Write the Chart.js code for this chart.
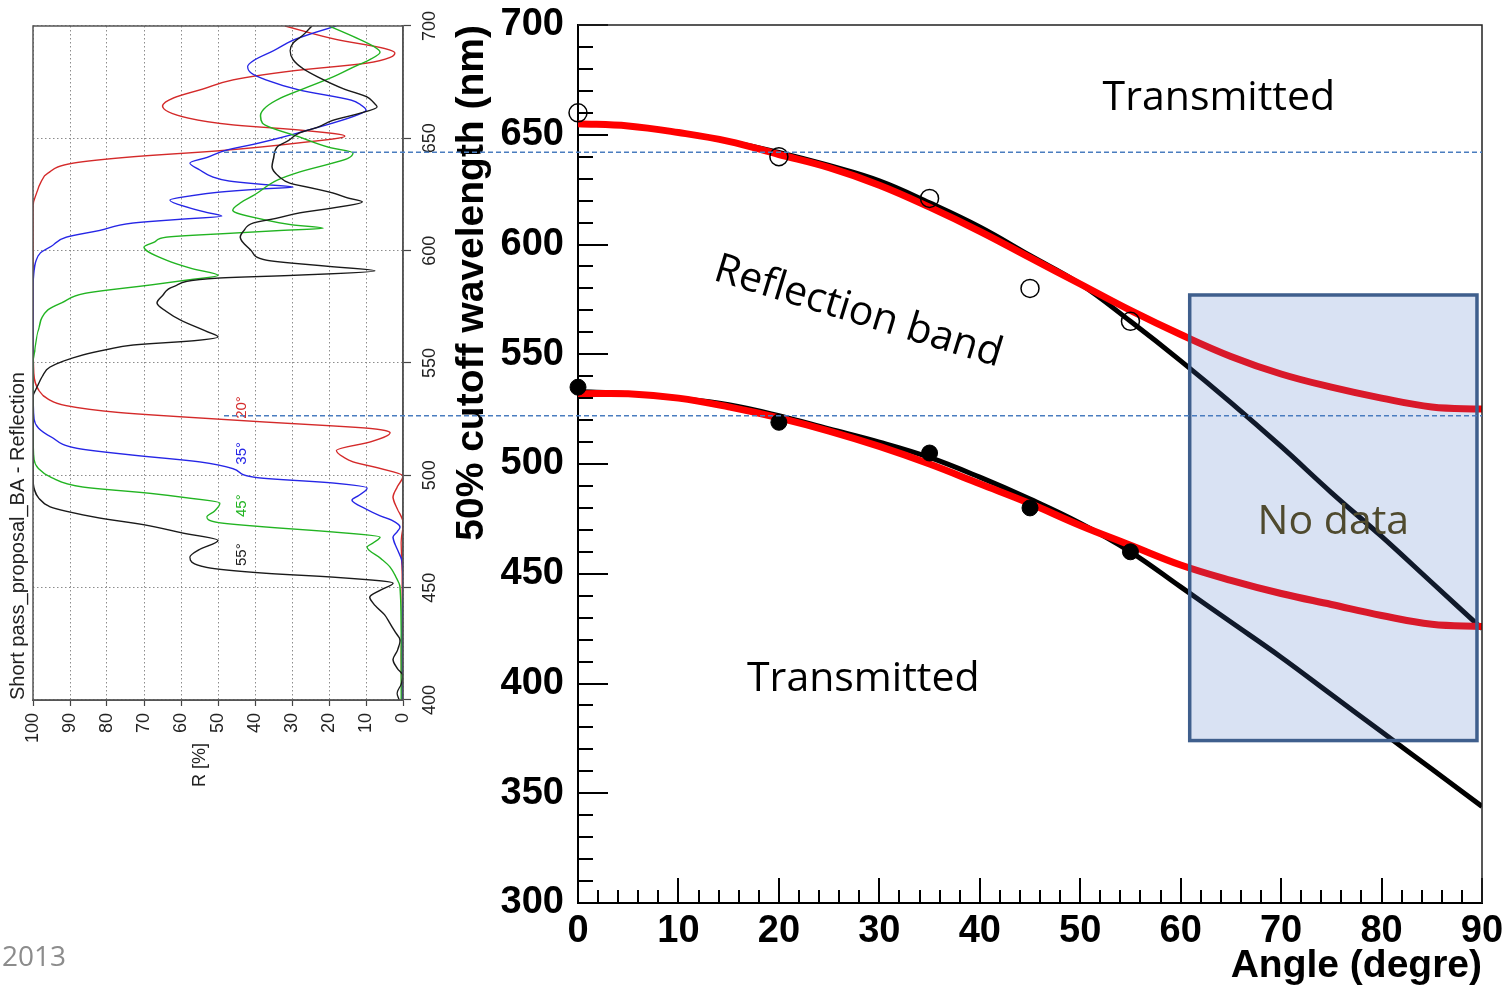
<!DOCTYPE html>
<html>
<head>
<meta charset="utf-8">
<title>50% cutoff wavelength vs angle</title>
<script src="https://cdn.jsdelivr.net/npm/chart.js@4.4.0/dist/chart.umd.min.js"></script>
<style>
    html, body { margin: 0; padding: 0; background: #fff; overflow: hidden; }
    #stage { position: relative; width: 1509px; height: 990px; }
    #spectrum-chart { position: absolute; left: 0; top: 0; transform-origin: 0 0; transform: translate(0px, 800px) rotate(-90deg); }
    #cutoff-chart { position: absolute; left: 0; top: 0; }
    #year { position: absolute; left: 2px; top: 941px; font-family: "Open Sans", sans-serif; font-size: 28px; line-height: 1; color: #8c8c8c; }
</style>
</head>
<body>
<div id="stage">
    <canvas id="spectrum-chart" width="800" height="440"></canvas>
    <canvas id="cutoff-chart" width="1509" height="990"></canvas>
    <div id="year">2013</div>
</div>
<script>
// right panel: 50% cutoff wavelength (nm) vs angle (deg)
const angles = [0, 5, 10, 15, 20, 25, 30, 35, 40, 45, 50, 55, 60, 65, 70, 75, 80, 85, 90];
const upperBlack = [655, 654, 651, 647, 642, 636, 629, 619, 608, 595, 582, 565, 547, 528, 508, 487, 467, 446, 425];
const upperRed = [655, 654, 651, 647, 641, 635, 627, 617, 606, 594, 582, 570, 559, 549, 541, 535, 530, 526, 525];
const lowerBlack = [533, 532, 530, 527, 522, 516, 510, 503, 494, 484, 473, 460, 444, 428, 412, 395, 378, 361, 344];
const lowerRed = [532, 532, 530, 526, 521, 515, 508, 500, 491, 482, 472, 463, 454, 447, 441, 436, 431, 427, 426];
const measuredAngles = [0, 20, 35, 45, 55];
const upperMeasured = [660, 640, 621, 580, 565];
const lowerMeasured = [535, 519, 505, 480, 460];
const cutoffMarks = [642, 522];

// left panel: reflection spectra [wavelength nm, R %] per incidence angle
const spectrum20 = [[400, 0.3], [420, 0.5], [440, 0.2], [460, 0.3], [470, 0.5], [479, 0], [485, 1.5], [490.3, 2.7], [495, 1.5], [499.7, 0],
    [503, 6], [506, 13.5], [508, 16], [511, 18], [515, 8.6], [518.9, 3.5], [520, 5], [521, 9.7], [522, 19], [523.7, 37], [526, 59.5],
    [528, 77], [531, 91], [534, 96], [538, 98.5], [545.5, 99.8], [560, 100], [600, 100], [620, 100], [625.7, 99], [630, 98], [634.5, 96],
    [639, 89], [641.8, 73], [644.5, 49.5], [648, 28], [651, 15.7], [653.7, 28], [656, 46], [659, 58], [664.4, 65], [668, 62], [672, 54],
    [676, 46], [680, 30], [683.5, 9.7], [686, 3.5], [688, 2.2], [690, 5], [694, 18], [700, 31.9]];
const spectrum35 = [[400, 0.2], [430, 0.3], [450, 0], [462, 0.3], [467, 1.5], [472.5, 2.7], [475, 1.5], [477, 0.8], [480, 3], [482, 6.2],
    [485, 10], [489, 13.8], [491, 12], [494.4, 9.7], [496.6, 19], [499, 39.5], [503, 46], [506, 55], [509, 73], [512, 88], [517, 95],
    [521, 98.5], [525, 99.7], [540, 100], [585, 100], [590, 99.8], [595, 99.3], [599, 98], [602, 95], [606, 91], [609, 82], [612.3, 73],
    [614, 60], [615.4, 49], [617, 53], [619, 57.6], [622.5, 63], [624.5, 57], [626, 50], [627.5, 38], [628.3, 29.7], [629.5, 38], [631, 47],
    [632.8, 51.4], [636, 55], [639, 57.6], [641.5, 53], [644.8, 47.6], [647.5, 40], [650.6, 32.4], [653.5, 26], [656.8, 19], [660, 13],
    [662.6, 10], [665, 11.5], [667, 14], [671.5, 28], [676, 37], [679, 41], [682, 42], [685, 40], [689, 35], [693.7, 29.7], [697, 24], [700, 18]];
const spectrum45 = [[400, 0.5], [430, 0.5], [450.3, 0.8], [455, 2], [459.2, 3.5], [463, 6], [468, 9.7], [470, 8], [472.5, 6.2], [474.8, 19],
    [477, 37], [479, 50], [481.5, 53], [484, 51], [487.7, 49.5], [490, 58.4], [492, 68.4], [494.8, 86.5], [499, 95], [503, 98.5], [507, 99.7],
    [520, 100], [550, 100], [556, 99.5], [565, 98.5], [573.6, 96], [577, 92], [581, 86], [584.7, 68.4], [587, 58], [589, 50], [592, 57],
    [595.8, 64], [601.6, 70], [604, 67], [606, 64], [607.8, 46], [609, 33], [610, 21.6], [611.5, 30], [613.6, 37], [618, 46], [621.2, 44],
    [625, 40], [631.4, 34], [635, 28], [639, 19], [641, 15], [643.5, 13.5], [646, 20], [650.6, 28], [656.8, 38], [660, 38.5], [664, 37],
    [668, 33], [672, 27], [677.3, 19], [682, 13], [685, 9], [688.4, 6.2], [691, 8], [695, 13], [700, 20]];
const spectrum55 = [[400, 1], [403, 1.6], [407, 0.5], [410.7, 0], [414, 1.5], [418, 2.7], [422, 1.5], [426.7, 0.8], [430, 2], [434, 3.5],
    [438, 5], [442, 7.5], [445.8, 9], [449, 6], [452, 2.7], [454.7, 19], [456.4, 37], [459, 53], [463.6, 57.6], [467, 55], [471, 50],
    [474.3, 59.5], [478, 70], [481, 82], [484, 91], [486, 95.4], [490, 98.5], [493.5, 99.6], [500, 100], [535, 100], [539, 99], [544, 97.5],
    [548.2, 95.4], [553.6, 86.5], [556, 80], [558, 73], [560, 56], [561.6, 50], [564, 53], [569, 60], [573, 64], [576.7, 66.5], [580, 65],
    [584, 62], [587.8, 50], [589, 30], [591, 7.6], [593, 20], [595.8, 37], [600, 41], [606, 44], [609, 43], [612.3, 40.5], [614.5, 34],
    [616.8, 28], [619, 19], [621.7, 11], [623.5, 15], [625.7, 19], [628, 25], [630, 30.5], [633, 33.5], [637.3, 35.4], [641, 35], [646.2, 34],
    [649, 31], [652.4, 28], [655, 23], [658, 19], [661, 12], [664, 7], [666, 8], [668.4, 9.7], [672, 16], [677.3, 23], [681, 27], [685, 29.7],
    [689, 30.5], [692.4, 29.7], [696, 27], [700, 24.6]];

let spectrumChart = null;
let cutoffChart = null;

Chart.defaults.font.family = 'Liberation Sans';
Chart.defaults.color = '#000';

function zipPoints(xs, ys) {
    return xs.map((x, i) => ({ x: x, y: ys[i] }));
}

function pairPoints(pairs) {
    return pairs.map(([wl, r]) => ({ x: wl, y: r }));
}

function drawText(ctx, text, px, py, opts) {
    ctx.save();
    ctx.translate(px, py);
    ctx.rotate((opts.angle || 0) * Math.PI / 180);
    ctx.fillStyle = opts.color || '#000';
    ctx.font = opts.font;
    ctx.textAlign = opts.align || 'center';
    ctx.textBaseline = opts.baseline || 'alphabetic';
    ctx.fillText(text, 0, 0);
    ctx.restore();
}

// frame, labels and angle tags of the (rotated) spectrum plot
const spectrumDecor = {
    id: 'spectrumDecor',
    afterDraw(chart) {
        const { ctx, chartArea, scales: { x, y } } = chart;
        ctx.save();
        ctx.strokeStyle = '#555';
        ctx.lineWidth = 1.5;
        ctx.strokeRect(chartArea.left, chartArea.top, chartArea.right - chartArea.left, chartArea.bottom - chartArea.top);
        ctx.restore();

        drawText(ctx, 'Short pass_proposal_BA - Reflection', chartArea.left, 18,
            { font: '20px "Liberation Sans"', align: 'left', baseline: 'middle', color: '#222' });
        drawText(ctx, 'R [%]', 35, 200, { font: '18px "Liberation Sans"', baseline: 'middle', color: '#222' });

        const tags = [['20°', 530.2, '#d42a2a'], ['35°', 509.8, '#2626e6'], ['45°', 486.5, '#22b422'], ['55°', 464.7, '#1a1a1a']];
        tags.forEach(([text, wl, color]) => {
            drawText(ctx, text, x.getPixelForValue(wl), y.getPixelForValue(43.5),
                { font: '15px "Liberation Sans"', baseline: 'middle', color: color });
        });
    }
};

function drawSpectrumChart() {
    const ctx = document.getElementById('spectrum-chart').getContext('2d');
    const lineSet = (pairs, color) => ({
        data: pairPoints(pairs),
        showLine: true,
        borderColor: color,
        borderWidth: 1.4,
        pointRadius: 0,
        cubicInterpolationMode: 'monotone'
    });
    const axisFont = { family: 'Liberation Sans', size: 18 };

    spectrumChart = new Chart(ctx, {
        type: 'scatter',
        data: {
            datasets: [
                lineSet(spectrum55, '#1a1a1a'),
                lineSet(spectrum45, '#22b422'),
                lineSet(spectrum35, '#2626e6'),
                lineSet(spectrum20, '#d42a2a')
            ]
        },
        options: {
            responsive: false,
            animation: false,
            layout: { padding: { left: 0, top: 33, right: 26, bottom: 0 } },
            plugins: { legend: { display: false }, tooltip: { enabled: false } },
            scales: {
                x: {
                    type: 'linear', min: 400, max: 700,
                    afterFit: scale => { scale.height = 37; },
                    ticks: { stepSize: 50, color: '#222', padding: 8, maxRotation: 0, font: axisFont },
                    grid: { color: '#8c8c8c', lineWidth: 1, tickLength: 8, tickColor: '#444', tickWidth: 1.2 },
                    border: { display: true, color: '#555', width: 1.5, dash: [1.5, 2.5] }
                },
                y: {
                    type: 'linear', min: 0, max: 100,
                    afterFit: scale => { scale.width = 100; },
                    ticks: { stepSize: 10, color: '#222', padding: 7, font: axisFont },
                    grid: { color: '#8c8c8c', lineWidth: 1, tickLength: 6, tickColor: '#444', tickWidth: 1.2 },
                    border: { display: true, color: '#555', width: 1.5, dash: [1.5, 2.5] }
                }
            }
        },
        plugins: [spectrumDecor]
    });
}

// inward ticks, frame, dashed cutoff marks, shaded no-data zone and labels
const cutoffDecor = {
    id: 'cutoffDecor',
    afterDatasetsDraw(chart) {
        const { ctx, scales: { x, y } } = chart;
        const x0 = x.getPixelForValue(60.9);
        const x1 = x.getPixelForValue(89.5);
        const y0 = y.getPixelForValue(577);
        const y1 = y.getPixelForValue(374);
        ctx.save();
        ctx.fillStyle = 'rgba(76, 119, 200, 0.21)';
        ctx.fillRect(x0, y0, x1 - x0, y1 - y0);
        ctx.lineWidth = 3.5;
        ctx.strokeStyle = '#3f5f8d';
        ctx.strokeRect(x0, y0, x1 - x0, y1 - y0);
        ctx.restore();
    },
    afterDraw(chart) {
        const { ctx, chartArea: { left, right, top, bottom }, scales: { x, y } } = chart;

        ctx.save();
        ctx.strokeStyle = '#000';
        ctx.lineWidth = 2;
        ctx.beginPath();
        for (let v = 300; v <= 700; v += 10) {
            const py = Math.round(y.getPixelForValue(v));
            const len = v % 50 === 0 ? 30 : 15;
            ctx.moveTo(left, py);
            ctx.lineTo(left + len, py);
        }
        for (let a = 0; a <= 90; a += 2) {
            const px = Math.round(x.getPixelForValue(a));
            const len = a % 10 === 0 ? 25 : 13;
            ctx.moveTo(px, bottom);
            ctx.lineTo(px, bottom - len);
        }
        ctx.stroke();

        ctx.lineWidth = 1.5;
        ctx.strokeStyle = '#222';
        ctx.beginPath();
        ctx.moveTo(left, top);
        ctx.lineTo(right, top);
        ctx.lineTo(right, bottom);
        ctx.stroke();

        // dashed cutoff marks run across both panels
        ctx.strokeStyle = '#4a7dbf';
        ctx.lineWidth = 1.5;
        ctx.setLineDash([5, 3]);
        cutoffMarks.forEach(wl => {
            const py = y.getPixelForValue(wl);
            ctx.beginPath();
            ctx.moveTo(224, py);
            ctx.lineTo(right, py);
            ctx.stroke();
        });
        ctx.restore();

        const labelFont = '41px "Open Sans"';
        drawText(ctx, 'Transmitted', x.getPixelForValue(63.8), y.getPixelForValue(661.4), { font: labelFont });
        drawText(ctx, 'Reflection band', x.getPixelForValue(27.9), y.getPixelForValue(569.2),
            { font: labelFont, angle: 17, baseline: 'middle' });
        drawText(ctx, 'Transmitted', x.getPixelForValue(28.4), y.getPixelForValue(396.7), { font: labelFont });
        drawText(ctx, 'No data', x.getPixelForValue(75.2), y.getPixelForValue(468), { font: labelFont, color: '#4f4a2e' });
    }
};

function drawCutoffChart() {
    const ctx = document.getElementById('cutoff-chart').getContext('2d');
    const curve = (values, color, width, order) => ({
        data: zipPoints(angles, values),
        showLine: true,
        borderColor: color,
        borderWidth: width,
        pointRadius: 0,
        tension: 0.4,
        order: order
    });
    const tickFont = { family: 'Liberation Sans', size: 38, weight: 'bold', lineHeight: 1 };
    const titleFont = { family: 'Liberation Sans', size: 39, weight: 'bold' };

    cutoffChart = new Chart(ctx, {
        type: 'scatter',
        data: {
            datasets: [
                {
                    data: zipPoints(measuredAngles, upperMeasured),
                    pointRadius: 9,
                    pointBorderWidth: 1.5,
                    pointBorderColor: '#000',
                    pointBackgroundColor: 'rgba(0,0,0,0)',
                    clip: false,
                    order: 0
                },
                {
                    data: zipPoints(measuredAngles, lowerMeasured),
                    pointRadius: 8,
                    pointBorderWidth: 1,
                    pointBorderColor: '#000',
                    pointBackgroundColor: '#000',
                    clip: false,
                    order: 0
                },
                curve(upperRed, '#ff0000', 7, 1),
                curve(lowerRed, '#ff0000', 7, 1),
                curve(upperBlack, '#000', 5, 2),
                curve(lowerBlack, '#000', 5, 2)
            ]
        },
        options: {
            responsive: false,
            animation: false,
            layout: { padding: { left: 440, top: 22, right: 27, bottom: 0 } },
            plugins: { legend: { display: false }, tooltip: { enabled: false } },
            scales: {
                x: {
                    type: 'linear', min: 0, max: 90,
                    afterFit: scale => { scale.height = 87; },
                    grid: { display: false },
                    border: { display: true, color: '#000', width: 2 },
                    ticks: { stepSize: 10, padding: 2, maxRotation: 0, autoSkip: false, color: '#000', font: tickFont },
                    title: { display: true, text: 'Angle (degre)', align: 'end', color: '#000', font: titleFont, padding: { top: 0, bottom: 0 } }
                },
                y: {
                    type: 'linear', min: 300, max: 700,
                    afterFit: scale => { scale.width = 138; },
                    grid: { display: false },
                    border: { display: true, color: '#000', width: 2 },
                    ticks: { stepSize: 50, padding: 6, autoSkip: false, color: '#000', font: tickFont },
                    title: { display: true, text: '50% cutoff wavelength (nm)', align: 'end', color: '#000', font: titleFont, padding: { top: 9, bottom: 0 } }
                }
            }
        },
        plugins: [cutoffDecor]
    });
}

window.addEventListener('DOMContentLoaded', () => {
    drawSpectrumChart();
    drawCutoffChart();
});
</script>
</body>
</html>
